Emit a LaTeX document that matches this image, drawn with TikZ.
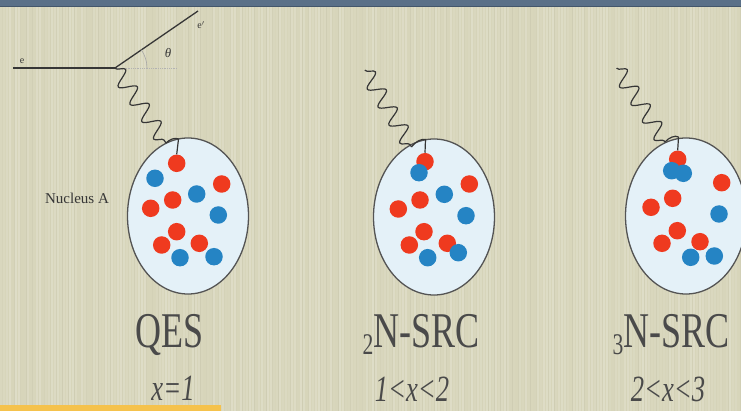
\documentclass[tikz,border=0pt]{standalone}
\usepackage{fontspec}
\setmainfont{Liberation Serif}
\newfontfamily\narrowserif[FakeStretch=0.72]{Liberation Serif}
\usetikzlibrary{decorations.pathmorphing,shapes.geometric}

\definecolor{paper}{HTML}{D7D5BA}
\definecolor{barblue}{HTML}{5A7088}
\definecolor{bardark}{HTML}{43566B}
\definecolor{barsun}{HTML}{F5C24C}
\definecolor{ink}{HTML}{363636}
\definecolor{nucfill}{HTML}{E4F1F8}
\definecolor{protonred}{HTML}{EF3A1F}
\definecolor{neutronblue}{HTML}{2584C4}

\tikzset{
  nucleus/.style={ellipse, draw=ink!85, line width=1.3pt, fill=nucfill,
                  minimum width=121pt, minimum height=156pt, inner sep=0pt},
  proton/.style={circle, fill=protonred, minimum size=17.5pt, inner sep=0pt},
  neutron/.style={circle, fill=neutronblue, minimum size=17.5pt, inner sep=0pt},
  photon/.style={draw=ink, line width=1.2pt, line join=round,
                 decorate, decoration={snake, amplitude=8pt, segment length=21pt,
                 pre length=0.5pt, post length=1pt}},
  hookline/.style={draw=ink, line width=1.2pt, line join=round},
  electron/.style={draw=ink, line width=1.3pt},
  biglabel/.style={anchor=base, text=ink!90, font=\narrowserif\fontsize{50}{50}\selectfont},
  rangelabel/.style={anchor=base, text=ink!90, font=\narrowserif\itshape\fontsize{37}{37}\selectfont},
  smalllabel/.style={text=ink, inner sep=0pt}
}

\newcommand{\lowidx}[1]{{\fontsize{30}{30}\selectfont\raisebox{-6pt}{#1}}}

\begin{document}
\begin{tikzpicture}[x=1pt,y=-1pt]
\useasboundingbox (0,0) rectangle (741,411);
\clip (0,0) rectangle (741,411);

% slide background with a fine vertical grain
\fill[paper] (0,0) rectangle (741,411);
\pgfmathsetseed{12}
\foreach \i in {0,...,246}{
  \pgfmathsetmacro\op{rnd*0.2}
  \fill[white, opacity=\op] (\i*3,0) rectangle ++(1.6,411);
}
\foreach \i in {0,...,123}{
  \pgfmathsetmacro\op{rnd*0.06}
  \fill[black!60!paper, opacity=\op] (\i*6+1.6,0) rectangle ++(1.2,411);
}

% title bar and highlight strip
\fill[barblue] (0,0) rectangle (741,6);
\fill[bardark] (0,6) rectangle (741,7.2);
\fill[barsun] (0,405) rectangle (221,411);

% ---------- electron scattering vertex ----------
\coordinate (ein) at (13,68);
\coordinate (vtx) at (115,68);
\coordinate (eout) at (198,11);
\coordinate (ref) at (177,68);
\draw[electron] (ein) -- (vtx);
\draw[electron] (vtx) -- (eout);
\draw[black!30, densely dotted, line width=0.8pt] (vtx) -- (ref);
\draw[black!35, line width=0.6pt] (vtx) ++(32,0) arc[start angle=0, end angle=-34.7, radius=32];
\node[smalllabel, font=\fontsize{10}{10}\selectfont] (le) at (22,61) {e};
\node[smalllabel, font=\fontsize{10}{10}\selectfont] (lep) at (201,25) {e$'$};
\node[smalllabel, font=\itshape\fontsize{13}{13}\selectfont] (lth) at (168,53) {θ};
\node[smalllabel, font=\fontsize{15}{15}\selectfont] (lnuc) at (77,198) {Nucleus A};

% ---------- nucleus 1: quasi-elastic ----------
\node[nucleus] (nucA) at (188,216) {};
\node[proton]  (a1)  at (176.7,163.3) {};
\node[neutron] (a2)  at (155,178.3) {};
\node[proton]  (a3)  at (221.7,184) {};
\node[proton]  (a4)  at (172.7,200) {};
\node[neutron] (a5)  at (196.7,194) {};
\node[proton]  (a6)  at (150.7,208.3) {};
\node[neutron] (a7)  at (218.3,215) {};
\node[proton]  (a8)  at (176.7,231.7) {};
\node[proton]  (a9)  at (161.7,245) {};
\node[proton]  (a10) at (199.3,243.3) {};
\node[neutron] (a11) at (180,257.7) {};
\node[neutron] (a12) at (214,256.7) {};

\coordinate (wa) at (166,143);
\coordinate (ha) at (178.5,139);
\path[photon] (vtx) -- (wa);
\draw[hookline] (wa) .. controls (170,139) and (175,137.5) .. (ha) -- (a1.north);

% ---------- nucleus 2: two-nucleon correlation ----------
\node[nucleus] (nucB) at (434,217) {};
\node[proton]  (b1)  at (425,161.7) {};
\node[neutron] (b2)  at (419,172.7) {};
\node[proton]  (b3)  at (469.3,184) {};
\node[neutron] (b4)  at (444.3,194.3) {};
\node[proton]  (b5)  at (420,200) {};
\node[proton]  (b6)  at (398.3,209) {};
\node[neutron] (b7)  at (466,215.7) {};
\node[proton]  (b8)  at (424,231.7) {};
\node[proton]  (b9)  at (409.3,245) {};
\node[proton]  (b10) at (447.3,243.3) {};
\node[neutron] (b11) at (458.3,252.7) {};
\node[neutron] (b12) at (427.7,257.7) {};

\coordinate (sb) at (365,70);
\coordinate (wb) at (411.5,147);
\coordinate (hb) at (425.5,139.5);
\path[photon] (sb) -- (wb);
\draw[hookline] (wb) .. controls (416,141) and (422,138.5) .. (hb) -- (b1.north);

% ---------- nucleus 3: three-nucleon correlation ----------
\node[nucleus] (nucC) at (686,216) {};
\node[proton]  (c1)  at (677.7,159.3) {};
\node[neutron] (c2)  at (671.7,170.7) {};
\node[neutron] (c3)  at (683.3,173.3) {};
\node[proton]  (c4)  at (721.7,182.7) {};
\node[proton]  (c5)  at (672.7,198.3) {};
\node[proton]  (c6)  at (651,207.3) {};
\node[neutron] (c7)  at (719,214) {};
\node[proton]  (c8)  at (677.3,230.7) {};
\node[proton]  (c9)  at (662,243.3) {};
\node[proton]  (c10) at (700,241.7) {};
\node[neutron] (c11) at (690.7,257.3) {};
\node[neutron] (c12) at (714.3,256) {};

\coordinate (sc) at (616.7,68);
\coordinate (wc) at (665,142);
\coordinate (hc) at (678.5,137);
\path[photon] (sc) -- (wc);
\draw[hookline] (wc) .. controls (669,137.5) and (675,135) .. (hc) -- (c1.north);

% ---------- captions ----------
\node[biglabel]   (tA) at (170,348) {QES};
\node[rangelabel] (rA) at (173,400) {x=1};
\node[biglabel]   (tB) at (421,348) {\lowidx{2}N-SRC};
\node[rangelabel] (rB) at (412,401) {1<x<2};
\node[biglabel]   (tC) at (671,348) {\lowidx{3}N-SRC};
\node[rangelabel] (rC) at (668,401) {2<x<3};
\end{tikzpicture}
\end{document}
